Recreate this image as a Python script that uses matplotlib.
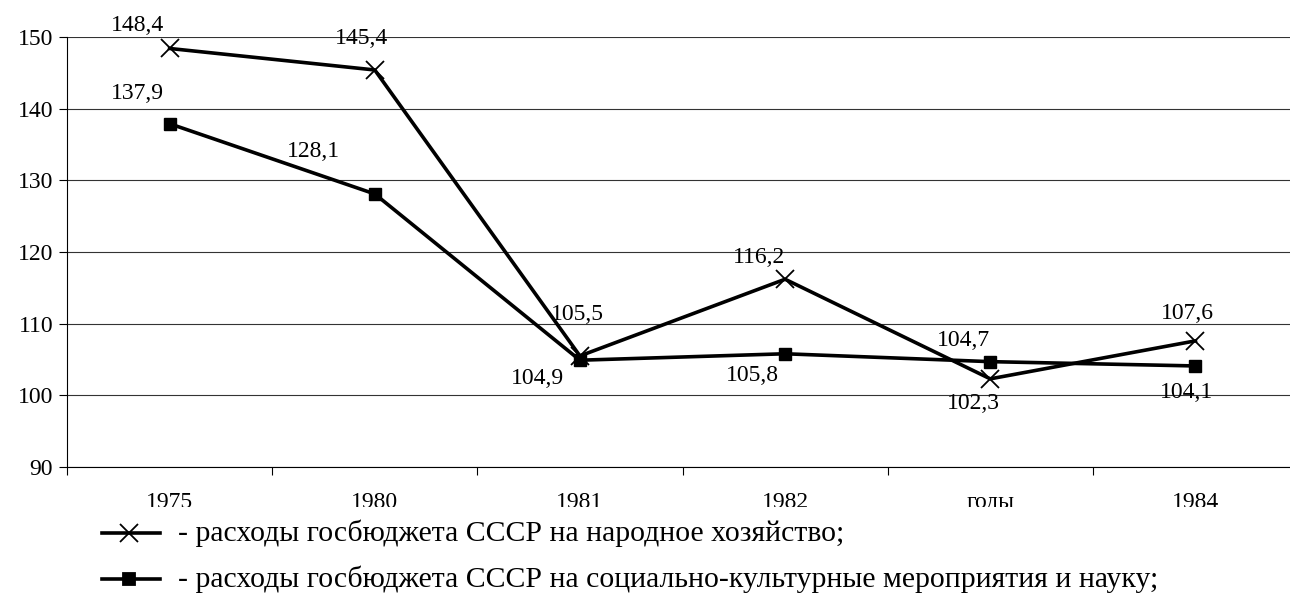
import matplotlib
matplotlib.use("Agg")
import matplotlib.pyplot as plt
from matplotlib.lines import Line2D
from matplotlib.patches import Rectangle

plt.rcParams['font.family'] = ['Liberation Serif', 'DejaVu Serif']

# данные
years = ['1975', '1980', '1981', '1982', 'годы', '1984']
nar_hoz = [148.4, 145.4, 105.5, 116.2, 102.3, 107.6]
soc_kult = [137.9, 128.1, 104.9, 105.8, 104.7, 104.1]
nar_lbl = ['148,4', '145,4', '105,5', '116,2', '102,3', '107,6']
soc_lbl = ['137,9', '128,1', '104,9', '105,8', '104,7', '104,1']
leg_nar = '- расходы госбюджета СССР на народное хозяйство;'
leg_soc = '- расходы госбюджета СССР на социально-культурные мероприятия и науку;'

# смещения подписей (пиксели)
nar_off = [(-32, 23), (-13, 31), (-2, 41), (-26, 22), (-17, -25), (-8, 27)]
soc_off = [(-32, 30), (-61, 42), (-42, -18), (-33, -22), (-27, 21), (-9, -27)]

fs = 17
fs_leg = 21.4
W, H = 1290, 597
fig = plt.figure(figsize=(W / 100, H / 100), dpi=100)
ax = fig.add_axes([67 / W, (H - 467) / H, (1298 - 67) / W, 430 / H])

x = list(range(len(years)))
ax.plot(x, nar_hoz, color='black', lw=2.6, marker='x', ms=13, mew=1.3, clip_on=False, zorder=3)
ax.plot(x, soc_kult, color='black', lw=2.6, marker='s', ms=9, clip_on=False, zorder=3)

for i in x:
    ax.annotate(nar_lbl[i], (i, nar_hoz[i]), xytext=nar_off[i], textcoords='offset pixels',
                ha='center', va='center', fontsize=fs, annotation_clip=False)
    ax.annotate(soc_lbl[i], (i, soc_kult[i]), xytext=soc_off[i], textcoords='offset pixels',
                ha='center', va='center', fontsize=fs, annotation_clip=False)

ax.set_xlim(-0.5, len(years) - 0.5)
ax.set_ylim(90, 150)
ax.set_yticks(range(90, 151, 10))
ax.tick_params(axis='y', direction='out', length=6, width=0.8, labelsize=fs, pad=4)
ax.yaxis.grid(True, color='#333333', lw=0.8)
ax.set_axisbelow(True)

ax.set_xticks([i - 0.5 for i in x] + [len(years) - 0.5])
ax.set_xticklabels([])
ax.set_xticks(x, minor=True)
ax.set_xticklabels(years, minor=True, fontsize=fs)
ax.tick_params(axis='x', which='major', direction='out', length=6, width=0.8)
ax.tick_params(axis='x', which='minor', length=0, pad=18)

for s in ['top', 'right']:
    ax.spines[s].set_visible(False)
ax.spines['left'].set_linewidth(0.8)
ax.spines['bottom'].set_linewidth(0.8)

# подписи снизу обрезаны
fig.add_artist(Rectangle((0, 0), 1, (H - 507) / H, transform=fig.transFigure,
                         facecolor='white', edgecolor='none', zorder=5))

# легенда
for yy, mk, ms, txt in [(533, 'x', 13, leg_nar), (579, 's', 9, leg_soc)]:
    fy = (H - yy) / H
    fig.add_artist(Line2D([102 / W, 160 / W], [fy, fy], color='black', lw=2.6,
                          transform=fig.transFigure, zorder=6))
    fig.add_artist(Line2D([129 / W], [fy], color='black', marker=mk, ms=ms, mew=1.3,
                          transform=fig.transFigure, zorder=7))
    fig.text(178 / W, fy, txt, fontsize=fs_leg, va='center', ha='left', zorder=8)

fig.savefig('out.png', dpi=100)
